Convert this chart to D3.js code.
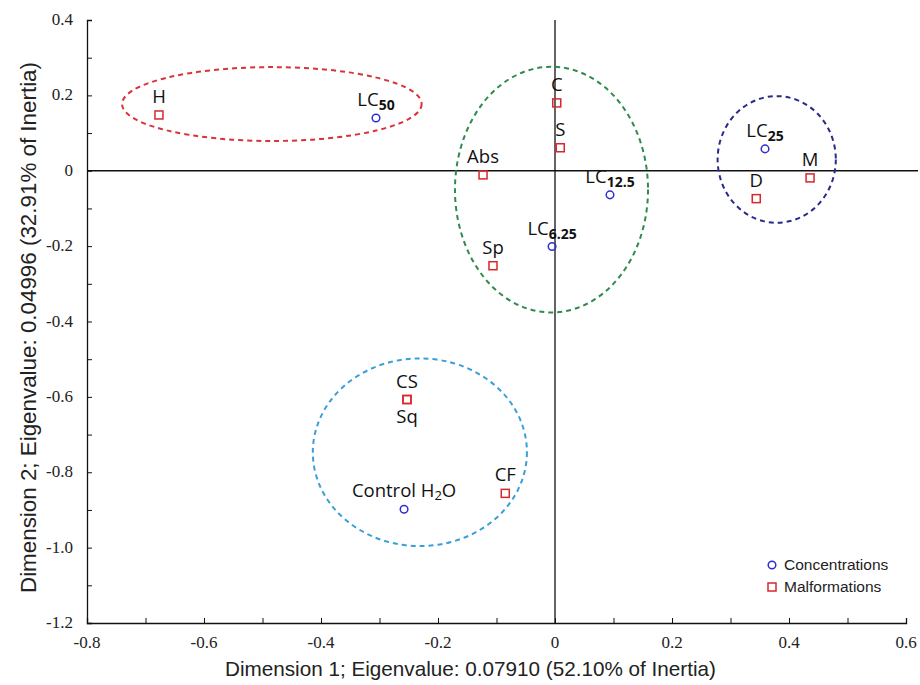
<!DOCTYPE html>
<html><head><meta charset="utf-8">
<script src="https://cdn.jsdelivr.net/npm/d3@7/dist/d3.min.js"></script>
<style>body{margin:0;background:#fff}svg{display:block}</style>
</head><body><svg id="c" width="920" height="685"></svg>
<script>
// ---- data ----
const concNames = ["LC50","LC25","LC12.5","LC6.25","Control H2O"];
const concX = [-0.306, 0.359, 0.094, -0.005, -0.258];
const concY = [0.140, 0.058, -0.064, -0.201, -0.898];
const malfNames = ["H","C","S","Abs","Sp","M","D","CS","Sq","CF"];
const malfX = [-0.677, 0.003, 0.009, -0.123, -0.106, 0.436, 0.344, -0.253, -0.253, -0.085];
const malfY = [0.148, 0.180, 0.061, -0.011, -0.252, -0.019, -0.074, -0.607, -0.607, -0.856];
const groupCx = [-0.484, -0.006, 0.379, -0.231];
const groupCy = [0.177, -0.050, 0.030, -0.747];
const groupRx = [0.256, 0.165, 0.101, 0.183];
const groupRy = [0.098, 0.326, 0.168, 0.249];
const groupColors = ["#d8333a", "#2e8b4a", "#2a2a8a", "#3a9fd8"];
const xTicks = [-0.8,-0.6,-0.4,-0.2,0,0.2,0.4,0.6];
const yTicks = [0.4,0.2,0,-0.2,-0.4,-0.6,-0.8,-1.0,-1.2];
const xTickLabels = ["-0.8","-0.6","-0.4","-0.2","0","0.2","0.4","0.6"];
const yTickLabels = ["0.4","0.2","0","-0.2","-0.4","-0.6","-0.8","-1.0","-1.2"];
const xLabel = "Dimension 1; Eigenvalue: 0.07910 (52.10% of Inertia)";
const yLabel = "Dimension 2; Eigenvalue: 0.04996 (32.91% of Inertia)";

const svg = d3.select("#c");
const x = d3.scaleLinear().domain([-0.8,0.6]).range([87,906]);
const y = d3.scaleLinear().domain([-1.2,0.4]).range([623,20]);
const circColor = "#2f2fd0", sqColor = "#d8262b";
const serifStack = "\"Liberation Serif\", \"Times New Roman\", serif";

// zero lines
svg.append("line").attr("x1",x(-0.8)).attr("x2",918).attr("y1",y(0)).attr("y2",y(0)).attr("stroke","#111").attr("stroke-width",1.3);
svg.append("line").attr("x1",x(0)).attr("x2",x(0)).attr("y1",y(0.4)).attr("y2",y(-1.2)).attr("stroke","#111").attr("stroke-width",1.3);

// axes (ticks inward, every 0.1)
const minorX = d3.range(-0.8,0.61,0.1).map(v=>+v.toFixed(1));
const minorY = d3.range(-1.2,0.41,0.1).map(v=>+v.toFixed(1));
const gx = svg.append("g").attr("transform",`translate(0,${y(-1.2)})`)
  .call(d3.axisBottom(x).tickValues(minorX).tickSize(-5).tickFormat(()=>""));
const gy = svg.append("g").attr("transform",`translate(${x(-0.8)},0)`)
  .call(d3.axisLeft(y).tickValues(minorY).tickSize(-5).tickFormat(()=>""));
[gx,gy].forEach(g=>{
  g.selectAll("path.domain").attr("stroke","#111").attr("stroke-width",1.3);
  g.selectAll("line").attr("stroke","#111");
  g.selectAll(".tick text").remove();
});

// tick labels positioned by the scales
svg.append("g").selectAll("text").data(xTicks).join("text")
  .attr("x",d=>x(d)).attr("y",y(-1.2)+25).attr("text-anchor","middle")
  .style("font-family",serifStack).style("font-size","17px").attr("fill","#222")
  .text((d,i)=>xTickLabels[i]);
svg.append("g").selectAll("text").data(yTicks).join("text")
  .attr("x",x(-0.8)-14).attr("y",d=>y(d)+5).attr("text-anchor","end")
  .style("font-family",serifStack).style("font-size","17px").attr("fill","#222")
  .text((d,i)=>yTickLabels[i]);

// axis titles
const tf = "\"Liberation Sans\", Arial, sans-serif";
svg.append("text").attr("x",470.5).attr("y",676).attr("text-anchor","middle")
  .style("font-family",tf).style("font-size","21px").attr("fill","#222")
  .attr("textLength",491).attr("lengthAdjust","spacingAndGlyphs").text(xLabel);
svg.append("text").attr("transform","translate(36,327.5) rotate(-90)").attr("text-anchor","middle")
  .style("font-family",tf).style("font-size","22px").attr("fill","#222")
  .attr("textLength",531).attr("lengthAdjust","spacingAndGlyphs").text(yLabel);

// ellipses
groupCx.forEach((cx,i)=>{
  svg.append("ellipse").attr("cx",x(cx)).attr("cy",y(groupCy[i]))
    .attr("rx",x(groupRx[i])-x(0)).attr("ry",y(0)-y(groupRy[i]))
    .attr("fill","none").attr("stroke",groupColors[i]).attr("stroke-width",2)
    .attr("stroke-dasharray","5,4");
});

// points
concNames.forEach((n,i)=>{
  svg.append("circle").attr("cx",x(concX[i])).attr("cy",y(concY[i])).attr("r",3.8)
    .attr("fill","none").attr("stroke",circColor).attr("stroke-width",1.5);
});
malfNames.forEach((n,i)=>{
  svg.append("rect").attr("x",x(malfX[i])-4).attr("y",y(malfY[i])-4).attr("width",8).attr("height",8)
    .attr("fill","none").attr("stroke",sqColor).attr("stroke-width",1.5);
});

// labels
const lf = "\"Open Sans\", \"Noto Sans\", sans-serif";
function label(name, px, py, below){
  const t = svg.append("text").attr("x",px).attr("y", below ? py+23 : py-12)
    .attr("text-anchor","middle").style("font-family",lf).style("font-size","18.5px").attr("fill","#111");
  const m = name.match(/^LC(.+)$/);
  if (m){
    t.append("tspan").text("LC");
    t.append("tspan").attr("dy",4).style("font-size","14px").style("font-weight","bold").text(m[1]);
  } else if (name==="Control H2O"){
    t.append("tspan").text("Control H");
    t.append("tspan").attr("dy",3).style("font-size","13px").text("2");
    t.append("tspan").attr("dy",-3).text("O");
  } else t.text(name);
}
concNames.forEach((n,i)=>label(n,x(concX[i]),y(concY[i]),false));
malfNames.forEach((n,i)=>label(n,x(malfX[i]),y(malfY[i]),n==="Sq"));

// legend
const lg = svg.append("g").style("font-family",tf).style("font-size","15.5px").attr("fill","#222");
lg.append("circle").attr("cx",772).attr("cy",565).attr("r",3.8).attr("fill","none").attr("stroke",circColor).attr("stroke-width",1.5);
lg.append("text").attr("x",784).attr("y",570).text("Concentrations");
lg.append("rect").attr("x",768).attr("y",583).attr("width",8).attr("height",8).attr("fill","none").attr("stroke",sqColor).attr("stroke-width",1.5);
lg.append("text").attr("x",784).attr("y",592).text("Malformations");
</script></body></html>
